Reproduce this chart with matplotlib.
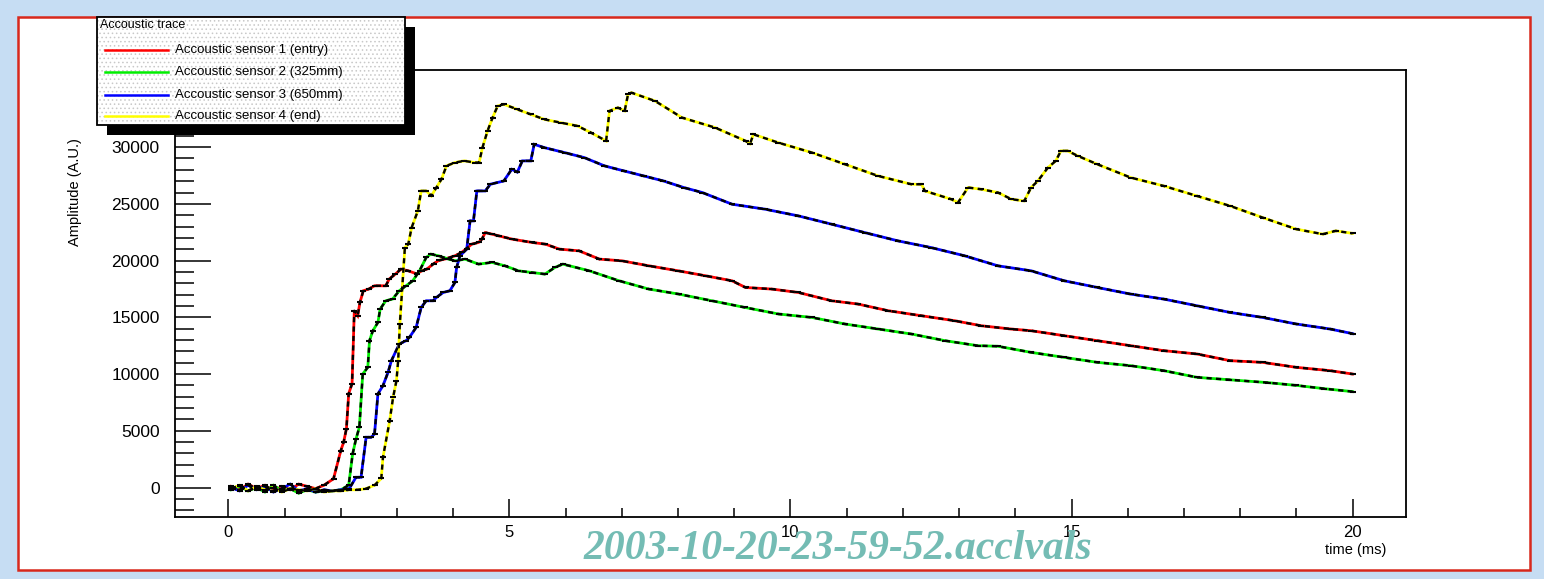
import matplotlib
matplotlib.use('Agg')
import matplotlib.pyplot as plt
from matplotlib.patches import Rectangle
from matplotlib.lines import Line2D
from matplotlib.ticker import MultipleLocator

# ---------------- data ----------------
t1 = [0.05,0.2,0.35,0.5,0.65,0.8,0.95,1.1,1.25,1.4,1.55,1.7,1.87,2.0,2.05,2.1,2.14,2.2,2.24,2.3,2.34,2.4,2.5,2.6,2.8,2.86,2.97,3.07,3.2,3.35,3.44,3.53,3.65,3.74,3.86,4.03,4.15,4.33,4.45,4.51,4.57,4.69,4.81,5.05,5.4,5.64,5.89,6.24,6.6,7.0,7.48,8.0,8.49,8.96,9.2,9.67,10.14,10.73,11.2,11.74,12.33,12.92,13.39,13.92,14.28,14.87,15.46,16.05,16.64,17.23,17.82,18.4,19.0,19.6,20.0]
sensor1 = [100,-200,300,-100,200,-300,100,-200,300,100,-100,200,770,3260,3990,5190,8270,9150,15580,15140,16310,17340,17500,17780,17780,18370,18810,19250,19100,18830,19100,19250,19720,20010,20150,20420,20720,21450,21600,21890,22470,22330,22180,21890,21600,21450,21010,20860,20130,19980,19540,19100,18660,18220,17630,17490,17190,16460,16170,15580,15140,14700,14260,13970,13820,13380,12940,12500,12060,11770,11180,11030,10590,10300,10000]

t2 = [0.05,0.2,0.35,0.5,0.65,0.8,0.95,1.1,1.25,1.4,1.55,1.7,1.85,2.0,2.14,2.21,2.27,2.33,2.39,2.48,2.51,2.57,2.66,2.7,2.8,2.92,3.04,3.16,3.28,3.4,3.52,3.6,3.74,3.92,4.04,4.21,4.45,4.69,4.92,5.16,5.4,5.63,5.81,5.95,6.42,6.95,7.48,8.01,8.6,9.19,9.79,10.38,10.97,11.56,12.15,12.75,13.33,13.69,14.28,14.87,15.46,16.05,16.64,17.23,17.8,18.5,19.0,19.5,20.0]
sensor2 = [-200,100,-300,0,-400,200,-300,-100,-500,-200,-400,-300,-300,-200,200,2960,4280,5310,10010,10590,12940,13820,14550,15730,16460,16610,17340,17780,18220,19100,20280,20570,20420,20130,19980,20130,19690,19840,19540,19100,18950,18810,19400,19690,19100,18220,17490,17050,16460,15870,15290,14990,14410,13970,13530,12940,12500,12450,11910,11470,11030,10740,10300,9710,9500,9240,9000,8710,8450]

t3 = [0.05,0.2,0.35,0.5,0.65,0.8,0.95,1.1,1.25,1.4,1.55,1.7,1.85,2.0,2.15,2.27,2.36,2.45,2.54,2.6,2.66,2.75,2.84,2.9,3.04,3.16,3.22,3.34,3.43,3.52,3.64,3.7,3.82,3.94,4.03,4.06,4.12,4.24,4.3,4.36,4.42,4.57,4.66,4.9,5.04,5.14,5.23,5.38,5.44,5.62,5.98,6.33,6.69,7.04,7.39,7.74,8.1,8.43,8.96,9.55,10.14,10.73,11.32,11.91,12.5,13.1,13.69,14.28,14.87,15.46,16.05,16.64,17.23,17.82,18.4,19.0,19.6,20.0]
sensor3 = [0,-300,200,-200,100,-400,-100,300,-300,-100,-400,-200,-300,-200,-100,900,900,4430,4430,4720,8250,8980,10150,11180,12650,12940,13230,14110,15870,16460,16460,16750,17190,17340,18070,19400,20420,21010,23500,23500,26140,26140,26730,27020,28050,27800,28790,28790,30250,29960,29520,29080,28350,27900,27460,27020,26440,26000,24970,24530,23940,23210,22470,21740,21150,20420,19540,19100,18220,17630,17050,16610,16020,15430,14990,14410,13970,13560]

t4 = [0.05,0.2,0.35,0.5,0.65,0.8,0.95,1.1,1.25,1.4,1.55,1.7,1.85,2.0,2.15,2.3,2.45,2.6,2.72,2.75,2.87,2.93,2.99,3.02,3.05,3.14,3.2,3.26,3.37,3.43,3.52,3.61,3.7,3.79,3.88,4.03,4.2,4.38,4.46,4.52,4.61,4.7,4.79,4.9,5.14,5.38,5.62,5.91,6.21,6.45,6.72,6.78,6.93,7.05,7.11,7.17,7.59,8.07,8.66,9.2,9.28,9.34,9.78,10.38,10.97,11.56,12.15,12.33,12.39,12.86,12.98,13.16,13.39,13.69,13.93,14.16,14.28,14.4,14.58,14.72,14.81,14.93,15.11,15.46,16.05,16.64,17.23,17.82,18.4,19.0,19.47,19.7,20.0]
sensor4 = [-100,200,-300,100,-200,0,-400,-100,-200,-300,-100,-400,-300,-300,-200,-200,-100,200,800,2670,5900,7950,9420,11180,14400,21150,21450,22910,24380,26140,26140,25700,26440,27170,28350,28640,28790,28640,28640,29960,31430,32600,33630,33780,33330,32890,32450,32160,31870,31280,30550,33190,33480,33200,34660,34800,34070,32600,31720,30550,30300,31130,30400,29520,28490,27460,26730,26730,26140,25410,25120,26440,26290,26000,25410,25260,26440,27020,28200,28790,29670,29670,29230,28490,27320,26580,25700,24820,23790,22770,22330,22620,22400]

labels = ["Accoustic sensor 1 (entry)", "Accoustic sensor 2 (325mm)",
          "Accoustic sensor 3 (650mm)", "Accoustic sensor 4 (end)"]
colors = ["#ff0000", "#00ee00", "#0000ff", "#ffff00"]
x_ticks = [0, 5, 10, 15, 20]
y_ticks = [0, 5000, 10000, 15000, 20000, 25000, 30000, 35000]

# ---------------- figure ----------------
W, H = 1544, 579
fig = plt.figure(figsize=(15.44, 5.79), dpi=100)
fig.patch.set_facecolor('#c6ddf3')
plt.rcParams['font.family'] = ['Liberation Sans', 'DejaVu Sans']

def fx(px):
    return px / W

def fy(py):
    return 1 - py / H

# white slide panel with red border
fig.add_artist(Rectangle((fx(18), fy(570)), (1530 - 18) / W, (570 - 17) / H,
                         transform=fig.transFigure, facecolor='white',
                         edgecolor='#d8281c', lw=1.8, zorder=-5))

ax = fig.add_axes([fx(175), fy(517), (1406 - 175) / W, (517 - 70) / H])
ax.set_facecolor('white')

for t, y, c in zip([t1, t2, t3, t4], [sensor1, sensor2, sensor3, sensor4], colors):
    ax.plot(t, y, color=c, lw=2.0, zorder=2, solid_joinstyle='miter')
    ax.plot(t, y, color='black', lw=1.7, dashes=(2.2, 1.8), zorder=3)
    ax.plot(t, y, ls='none', marker='_', ms=5, mew=1.5, color='black', zorder=3)

ax.set_xlim(-0.95, 20.95)
ax.set_ylim(-2600, 36800)
ax.set_xticks(x_ticks)
ax.set_yticks(y_ticks)
ax.xaxis.set_minor_locator(MultipleLocator(1))
ax.yaxis.set_minor_locator(MultipleLocator(1000))
ax.tick_params(axis='y', which='major', direction='in', length=26, width=1.1,
               labelsize=12.5, pad=11, right=False)
ax.tick_params(axis='y', which='minor', direction='in', length=14, width=1.1, right=False)
ax.tick_params(axis='x', which='major', direction='in', length=13, width=1.1,
               labelsize=12, pad=6, top=False)
ax.tick_params(axis='x', which='minor', direction='in', length=6.5, width=1.1, top=False)
for s in ax.spines.values():
    s.set_linewidth(1.3)

# axis titles (ROOT style: at the ends of the axes)
fig.text(fx(75), fy(138), 'Amplitude (A.U.)', rotation=90, ha='center', va='top',
         fontsize=10.5)
fig.text(fx(1386), fy(550), 'time (ms)', ha='right', va='center', fontsize=10.5)

# file-name watermark
fig.text(fx(838), fy(549), '2003-10-20-23-59-52.acclvals', family='Liberation Serif',
         style='italic', weight='bold', color='#74bcb4', fontsize=30,
         ha='center', va='center')

# ---------------- legend box (ROOT style with shadow) ----------------
lx0, ly0, lx1, ly1 = 97, 17, 405, 125
fig.add_artist(Rectangle((fx(lx0 + 10), fy(ly1 + 10)), (lx1 - lx0) / W, (ly1 - ly0) / H,
                         transform=fig.transFigure, facecolor='black',
                         edgecolor='black', lw=0, zorder=5))
plt.rcParams['hatch.linewidth'] = 0.6
fig.add_artist(Rectangle((fx(lx0), fy(ly1)), (lx1 - lx0) / W, (ly1 - ly0) / H,
                         transform=fig.transFigure, facecolor='white',
                         edgecolor='#c8c8c8', hatch='....', lw=0, zorder=6))
fig.add_artist(Rectangle((fx(lx0), fy(ly1)), (lx1 - lx0) / W, (ly1 - ly0) / H,
                         transform=fig.transFigure, facecolor='none',
                         edgecolor='black', lw=1.3, zorder=7))
fig.text(fx(100), fy(25), 'Accoustic trace', ha='left', va='center', fontsize=9,
         zorder=8)
entry_y = [50, 72, 95, 116]
for lab, c, ey in zip(labels, colors, entry_y):
    fig.add_artist(Line2D([fx(105), fx(168)], [fy(ey), fy(ey)], color=c, lw=1.8,
                          transform=fig.transFigure, zorder=8))
    fig.text(fx(175), fy(ey), lab, ha='left', va='center', fontsize=9.5, zorder=8)

fig.savefig('out.png', dpi=100, facecolor=fig.get_facecolor())
